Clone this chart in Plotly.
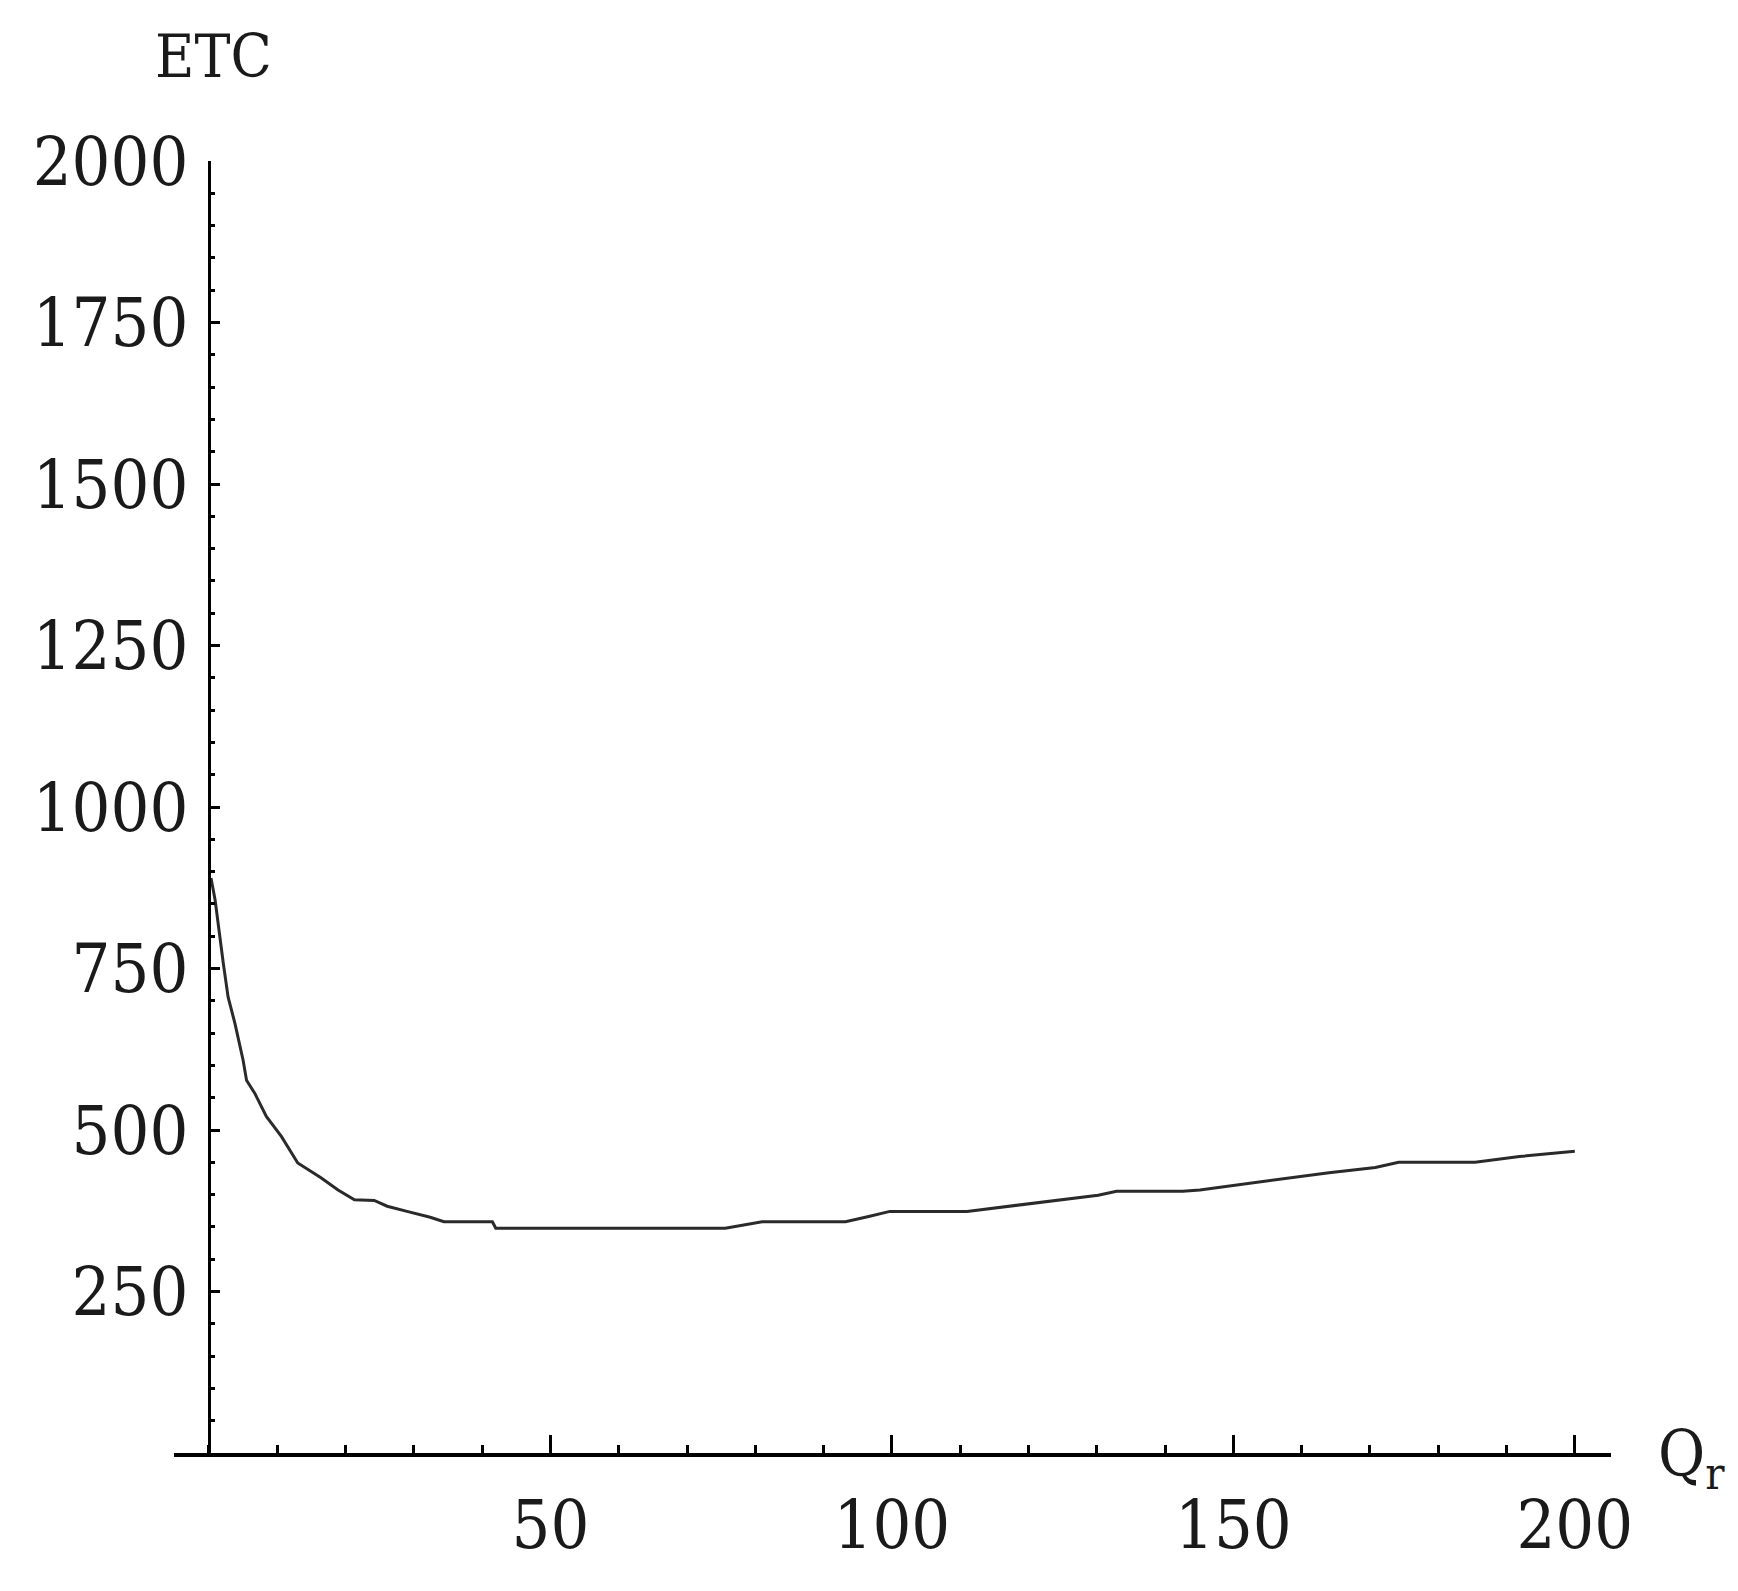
import plotly.graph_objects as go

# Data
qr = [0.3, 0.9, 2.1, 2.8, 3.8, 5.0, 5.5, 6.7, 8.4, 10.6, 13.0, 16.4, 18.9, 21.3,
      24.2, 26.1, 29.0, 32.4, 34.4, 41.5, 42.0, 75.6, 81.0, 93.2, 96.6, 99.7,
      111.0, 117.3, 124.1, 130.2, 132.9, 142.6, 145.1, 151.3, 157.7, 164.0,
      170.8, 174.2, 185.4, 191.9, 200.0]
etc = [890, 856, 758, 706, 665, 608, 577, 557, 521, 490, 449, 426, 407, 392,
       391, 382, 374, 365, 358, 358, 348, 348, 358, 358, 366, 374,
       374, 382, 391, 399, 405, 405, 407, 416, 425, 434,
       442, 450, 450, 459, 467]

x_ticks = [50, 100, 150, 200]
y_ticks = [250, 500, 750, 1000, 1250, 1500, 1750, 2000]

x_range = [-5.12, 205.3]
y_range = [0, 2000]

FONT = "DejaVu Serif Condensed, DejaVu Serif, serif"
TXT = "#1a1a1a"
OFF = 8  # page body offset compensation

fig = go.Figure()
fig.add_trace(go.Scatter(x=qr, y=etc, mode="lines",
                         line=dict(color="#2a2a2a", width=3),
                         showlegend=False, hoverinfo="skip"))

ypos = (0 - x_range[0]) / (x_range[1] - x_range[0])

fig.update_layout(
    width=1738, height=1591,
    margin=dict(l=174 - OFF, r=127 + OFF, t=161 - OFF, b=138 + OFF),
    paper_bgcolor="white", plot_bgcolor="white",
    font=dict(family=FONT, color=TXT),
    xaxis=dict(range=x_range, showgrid=False, zeroline=False, automargin=False,
               showline=True, linecolor="black", linewidth=4,
               tickmode="array", tickvals=x_ticks,
               ticktext=[str(v) for v in x_ticks],
               ticks="inside", ticklen=18, tickwidth=2.5, tickcolor="black",
               tickfont=dict(size=68, family=FONT, color=TXT),
               ticklabelstandoff=9,
               minor=dict(dtick=10, tick0=0, ticks="inside", ticklen=8,
                          tickwidth=2.5, tickcolor="black", showgrid=False)),
    yaxis=dict(range=y_range, showgrid=False, zeroline=False, automargin=False,
               anchor="free", position=ypos, side="left",
               showline=True, linecolor="black", linewidth=3,
               tickmode="array", tickvals=y_ticks,
               ticktext=[str(v) for v in y_ticks],
               ticks="inside", ticklen=9, tickwidth=3, tickcolor="black",
               tickfont=dict(size=68, family=FONT, color=TXT),
               ticklabelstandoff=6,
               minor=dict(dtick=50, tick0=0, ticks="inside", ticklen=4,
                          tickwidth=3, tickcolor="black", showgrid=False)),
    annotations=[
        dict(text="ETC", xref="x", x=0.6, yref="paper", y=1.081,
             xanchor="center", yanchor="middle", showarrow=False,
             font=dict(size=60, family=FONT, color=TXT)),
        dict(text="Q<sub>r</sub>", xref="paper", x=(1656 - 174) / 1437,
             yref="paper", y=-0.004, xanchor="left", yanchor="middle",
             showarrow=False,
             font=dict(size=64, family=FONT, color=TXT)),
    ],
)

fig.write_html("out.html")
